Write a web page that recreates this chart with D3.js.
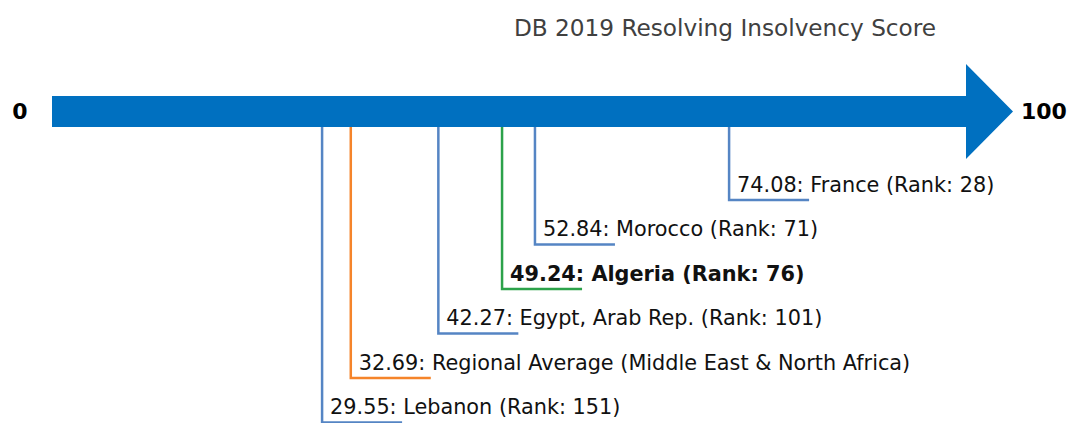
<!DOCTYPE html>
<html>
<head>
<meta charset="utf-8">
<script src="https://cdn.jsdelivr.net/npm/d3@7"></script>
<style>
  body { margin: 0; background: #fff; }
  text { font-family: "DejaVu Sans", sans-serif; }
</style>
</head>
<body>
<svg id="chart" width="1071" height="423"></svg>
<script>
// scores, labels and which marker is highlighted
var names = ["France", "Morocco", "Algeria", "Egypt, Arab Rep.", "Regional Average (Middle East & North Africa)", "Lebanon"];
var scores = [74.08, 52.84, 49.24, 42.27, 32.69, 29.55];
var ranks = [28, 71, 76, 101, null, 151];
var kinds = ["peer", "peer", "focus", "peer", "region", "peer"];
var domainEnds = [0, 100];

var colors = { peer: "#5585c4", focus: "#2ca24a", region: "#f5842a" };

var svg = d3.select("#chart");
var x = d3.scaleLinear().domain(domainEnds).range([52, 966]);

var barTop = 96, barBottom = 127;
var rowY = d3.scaleLinear().domain([0, 1]).range([200, 244.5]);

svg.append("text")
  .attr("x", 725).attr("y", 36)
  .attr("text-anchor", "middle")
  .attr("font-size", 23.2)
  .attr("fill", "#404040")
  .text("DB 2019 Resolving Insolvency Score");

// arrow
var arrow = d3.path();
arrow.moveTo(x(0), barTop);
arrow.lineTo(x(100), barTop);
arrow.lineTo(x(100), 64);
arrow.lineTo(1013, (barTop + barBottom) / 2);
arrow.lineTo(x(100), 159);
arrow.lineTo(x(100), barBottom);
arrow.lineTo(x(0), barBottom);
arrow.closePath();
svg.append("path").attr("d", arrow.toString()).attr("fill", "#0070c0");

svg.append("text").attr("x", 20).attr("y", 118.5)
  .attr("text-anchor", "middle").attr("font-size", 22).attr("font-weight", "bold")
  .text(domainEnds[0]);
svg.append("text").attr("x", 1021).attr("y", 118.5)
  .attr("font-size", 22).attr("font-weight", "bold")
  .text(domainEnds[1]);

var data = names.map(function(n, i) {
  return { name: n, score: scores[i], rank: ranks[i], kind: kinds[i], i: i };
});

var g = svg.selectAll("g.marker").data(data).enter().append("g").attr("class", "marker");

g.append("path")
  .attr("fill", "none")
  .attr("stroke", function(d) { return colors[d.kind]; })
  .attr("stroke-width", 2.5)
  .attr("d", function(d) {
    var y = rowY(d.i);
    return "M" + x(d.score) + "," + barBottom + "V" + y + "H" + (x(d.score) + 80);
  });

g.append("text")
  .attr("x", function(d) { return x(d.score) + 8; })
  .attr("y", function(d) { return rowY(d.i) - 8.5; })
  .attr("font-size", 20.8)
  .attr("font-weight", function(d) { return d.kind === "focus" ? "bold" : "normal"; })
  .attr("fill", "#111")
  .text(function(d) {
    var s = d.score.toFixed(2) + ": " + d.name;
    if (d.rank !== null) s += " (Rank: " + d.rank + ")";
    return s;
  });
</script>
</body>
</html>
